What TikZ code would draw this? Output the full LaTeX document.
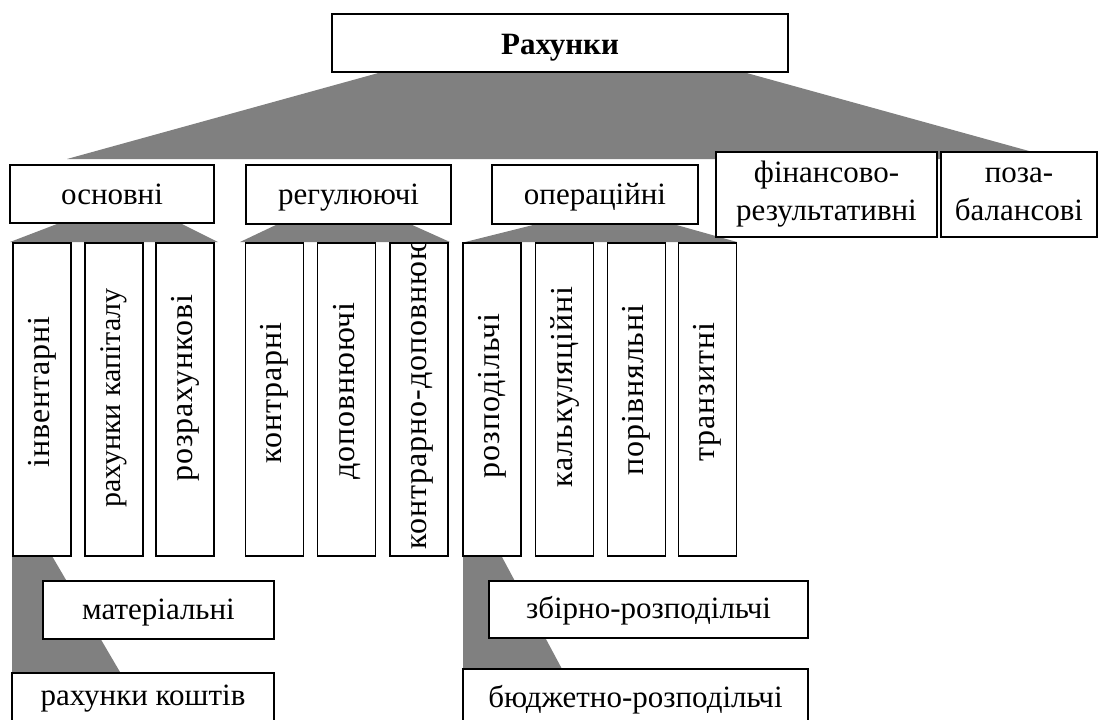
\documentclass[tikz,border=0pt]{standalone}
\usepackage{fontspec}
\setmainfont{Liberation Serif}
\definecolor{conngray}{HTML}{808080}
\begin{document}
\begin{tikzpicture}[x=1pt,y=-1pt,
  box/.style={draw=black,line width=1.8pt,fill=white,inner sep=0pt,minimum width=#1},
  box/.default=58pt,
  lbl/.style={font=\fontsize{31}{33}\selectfont,inner sep=0pt,align=center},
  vlbl/.style={inner sep=0pt,rotate=90,font=\fontsize{32}{34}\selectfont\addfontfeature{LetterSpace=3}},
  conn/.style={fill=conngray,draw=none}]
\clip (0,0) rectangle (1098,720);
\fill[white] (0,0) rectangle (1098,720);
% connectors (grey trapezoids)
\fill[conn] (382,72) -- (743,72) -- (1058,159) -- (67,159) -- cycle;
\fill[conn] (57,224) -- (182,224) -- (218,242) -- (10,242) -- cycle;
\fill[conn] (278,224) -- (410,224) -- (450,242) -- (240,242) -- cycle;
\fill[conn] (537,224) -- (673,224) -- (737,242) -- (465,242) -- cycle;
\fill[conn] (12,556) -- (52,556) -- (120,672) -- (12,672) -- cycle;
\fill[conn] (463,557) -- (502,557) -- (562,669) -- (463,669) -- cycle;
% top
\node[box=456pt,minimum height=58pt] (root) at (560,43) {};
\node[lbl,anchor=base,font=\fontsize{31}{33}\selectfont\bfseries] (rootT) at (560,54) {Рахунки};
% level 1
\node[box=204pt,minimum height=58pt] (osn) at (112,194) {};
\node[lbl,anchor=base] (osnT) at (112,204) {основні};
\node[box=205pt,minimum height=59pt] (reg) at (348.5,194.5) {};
\node[lbl,anchor=base] (regT) at (348.5,204) {регулюючі};
\node[box=206pt,minimum height=59pt] (oper) at (595,194.5) {};
\node[lbl,anchor=base] (operT) at (595,204) {операційні};
\node[box=221pt,minimum height=85pt] (fin) at (826.5,194.5) {};
\node[lbl,anchor=base] (finA) at (826.5,182) {фінансово-};
\node[lbl,anchor=base] (finB) at (826.5,220) {результативні};
\node[box=156pt,minimum height=85pt] (poza) at (1019,194.5) {};
\node[lbl,anchor=base] (pozaA) at (1019,182) {поза-};
\node[lbl,anchor=base] (pozaB) at (1019,220) {балансові};
% columns
\foreach \n/\x in {c1/42,c2/114,c3/185,c4/274.5,c5/346.5,c6/419,c7/492,c8/564.5,c9/636.5,c10/707.5}
  \node[box,minimum height=313pt] (\n) at (\x,399.5) {};
\node[vlbl] (t1) at (42,392) {інвентарні};
\node[inner sep=0pt,rotate=90,font=\fontsize{30}{32}\selectfont] (t2) at (114,398) {рахунки капіталу};
\node[vlbl] (t3) at (185,388) {розрахункові};
\node[vlbl] (t4) at (274.5,393) {контрарні};
\node[vlbl] (t5) at (346.5,391) {доповнюючі};
\begin{scope}
  \clip ([xshift=1pt,yshift=1pt]c6.south west) rectangle ([xshift=-1pt,yshift=-1pt]c6.north east);
  \node[vlbl,anchor=west] (t6) at (419,550) {контрарно-доповнюючі};
\end{scope}
\node[vlbl] (t7) at (492,396) {розподільчі};
\node[vlbl] (t8) at (564.5,387) {калькуляційні};
\node[vlbl] (t9) at (636.5,390) {порівняльні};
\node[vlbl] (t10) at (707.5,392) {транзитні};
% level 3
\node[box=231pt,minimum height=58pt] (mat) at (158.5,610) {};
\node[lbl,anchor=base] (matT) at (158.5,619) {матеріальні};
\node[box=262pt,minimum height=90pt] (kosht) at (143,718) {};
\node[lbl,anchor=base] (koshtT) at (143,705) {рахунки коштів};
\node[box=319pt,minimum height=57pt] (zb) at (648.5,609.5) {};
\node[lbl,anchor=base] (zbT) at (648.5,618) {збірно-розподільчі};
\node[box=345pt,minimum height=90pt] (bud) at (635.5,714) {};
\node[lbl,anchor=base] (budT) at (635.5,707) {бюджетно-розподільчі};
\end{tikzpicture}
\end{document}
